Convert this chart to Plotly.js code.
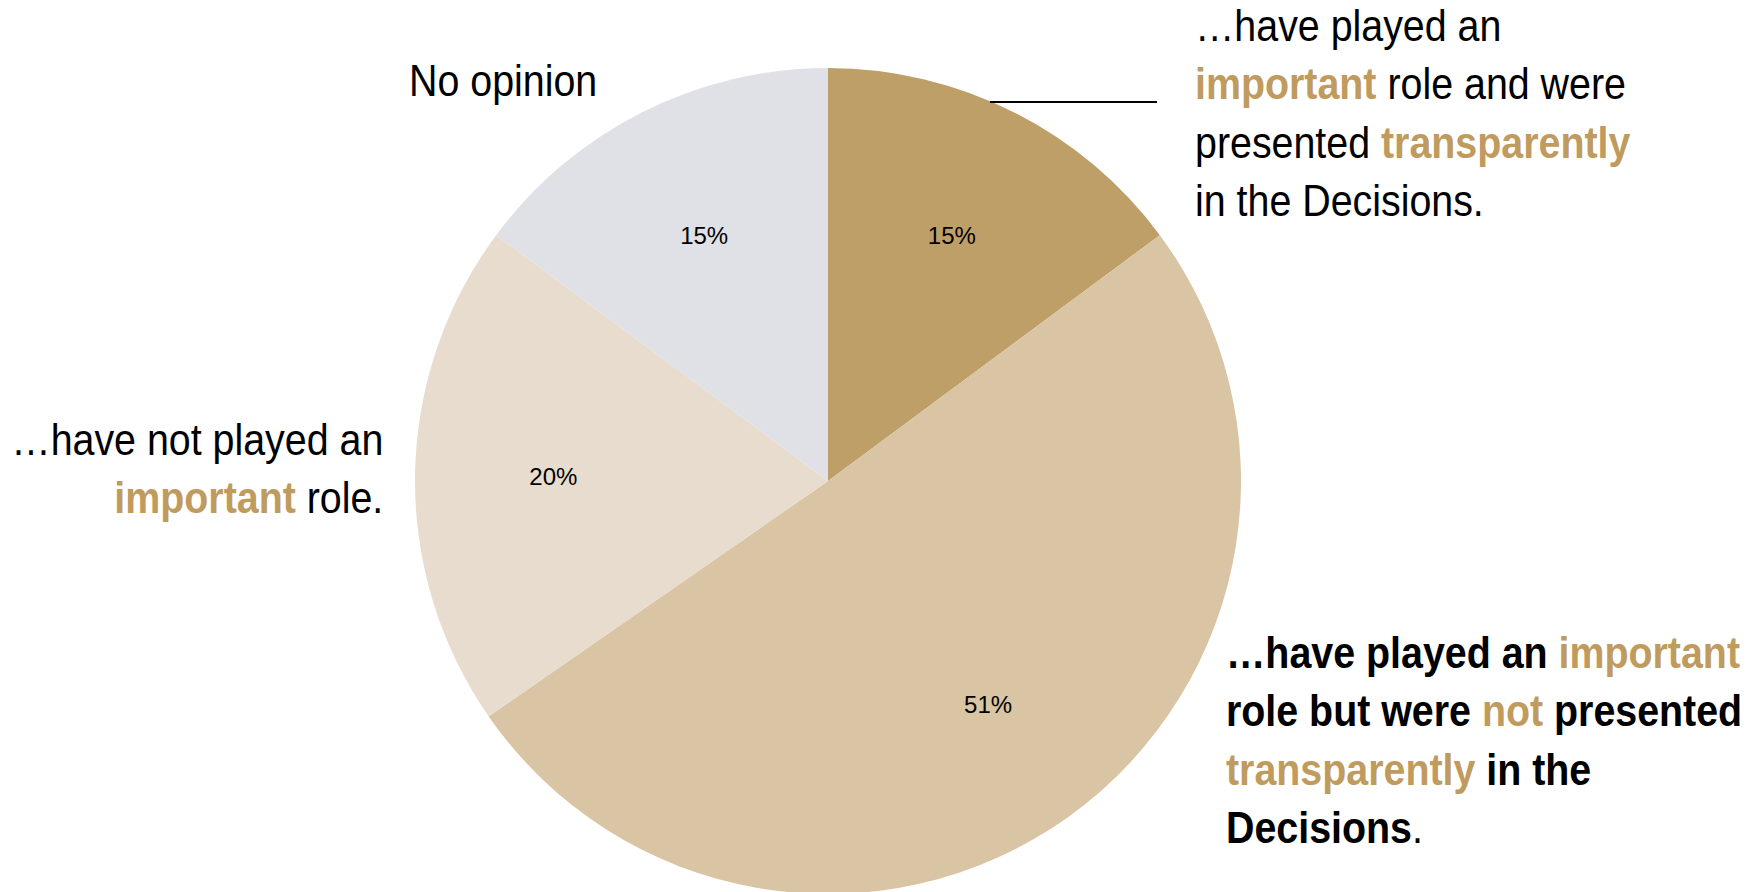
<!DOCTYPE html>
<html>
<head>
<meta charset="utf-8">
<script src="https://cdn.plot.ly/plotly-3.0.1.min.js"></script>
<style>
  html, body { margin: 0; padding: 0; background: #ffffff; overflow: hidden; }
  #chart { width: 1763px; height: 896px; }
</style>
</head>
<body>
<div id="chart"></div>
<script>
// ---- data ----
const categories = [
  "have played an important role and were presented transparently",
  "have played an important role but were not presented transparently",
  "have not played an important role",
  "No opinion"
];
const values = [15, 51, 20, 15];
const sliceColors = ["#BF9F68", "#D9C4A4", "#E7DCCD", "#E0E1E6"];

const GOLD = "#BF9B5E";
const FONT = "Liberation Sans, Arial, sans-serif";
const NARROW_FACTOR = 0.875; // narrow typeface look
const W = 1763, H = 896;

// pie geometry (pixels, top-down)
const CX = 828, CY = 481, R = 413;
const dom = r => ({ x: [(CX - r) / W, (CX + r) / W], y: [(H - (CY + r)) / H, (H - (CY - r)) / H] });

const pieBase = {
  type: "pie",
  labels: categories,
  values: values,
  sort: false,
  direction: "clockwise",
  rotation: 0,
  showlegend: false,
  hoverinfo: "none"
};

const traces = [
  Object.assign({}, pieBase, {
    domain: dom(R),
    marker: { colors: sliceColors, line: { width: 0 } },
    textinfo: "none"
  }),
  // transparent twin used only to place the percentage labels
  Object.assign({}, pieBase, {
    domain: dom(R * 0.9666),
    hole: 0.376,
    marker: { colors: values.map(() => "rgba(0,0,0,0)"), line: { width: 0 } },
    texttemplate: "%{value}%",
    textposition: "inside",
    insidetextorientation: "horizontal",
    textfont: { family: FONT, size: 24, color: "#000000" }
  })
];

const g = t => `<b><span style="color:${GOLD}">${t}</span></b>`;
const gb = t => `<span style="color:${GOLD}">${t}</span>`;

const annFont = { family: FONT, size: 45, color: "#000000" };
const px = x => x / W;
const py = y => 1 - y / H;

const layout = {
  width: W,
  height: H,
  margin: { l: 0, r: 0, t: 0, b: 0 },
  paper_bgcolor: "#ffffff",
  plot_bgcolor: "#ffffff",
  showlegend: false,
  annotations: [
    {
      xref: "paper", yref: "paper", x: px(407), y: py(53),
      xanchor: "left", yanchor: "top", align: "left", showarrow: false,
      text: "No opinion", font: annFont
    },
    {
      xref: "paper", yref: "paper", x: px(1193), y: py(-2),
      xanchor: "left", yanchor: "top", align: "left", showarrow: false,
      text: "…have played an<br>" + g("important") + " role and were<br>presented " +
            g("transparently") + "<br>in the Decisions.",
      font: annFont
    },
    {
      xref: "paper", yref: "paper", x: px(385), y: py(412),
      xanchor: "right", yanchor: "top", align: "right", showarrow: false,
      text: "…have not played an<br>" + g("important") + " role.",
      font: annFont
    },
    {
      xref: "paper", yref: "paper", x: px(1224), y: py(625),
      xanchor: "left", yanchor: "top", align: "left", showarrow: false,
      text: "<b>…have played an " + gb("important") + "<br>role but were " + gb("not") +
            " presented<br>" + gb("transparently") + " in the<br>Decisions</b>.",
      font: annFont
    }
  ],
  shapes: [
    {
      type: "line", xref: "paper", yref: "paper",
      x0: px(990), x1: px(1157), y0: py(102), y1: py(102),
      line: { color: "#000000", width: 2 }
    }
  ]
};

Plotly.newPlot("chart", traces, layout, { displayModeBar: false, staticPlot: true })
  .then(gd => {
    gd.querySelectorAll("g.annotation").forEach(ann => {
      const idx = +ann.getAttribute("data-index");
      const a = layout.annotations[idx];
      const t = ann.querySelector("text.annotation-text");
      if (!t || !a) return;
      t.style.transformBox = "fill-box";
      t.style.transformOrigin = a.align === "right" ? "100% 50%" : "0% 50%";
      t.style.transform = `scaleX(${NARROW_FACTOR})`;
    });
  });
</script>
</body>
</html>
